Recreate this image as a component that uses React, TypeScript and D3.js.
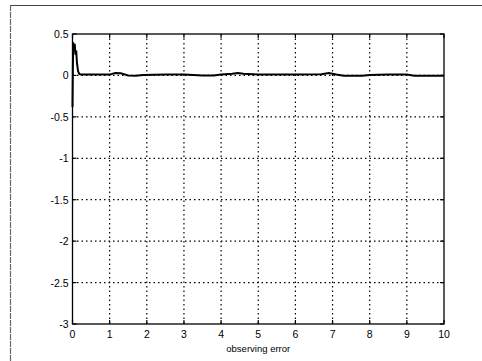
import React, { useEffect, useRef } from "react";
import * as d3 from "d3";

// observing error signal
const times = [0, 0.01, 0.02, 0.04, 0.06, 0.08, 0.1, 0.12, 0.15, 0.18, 0.22, 0.5, 1.0, 1.15, 1.3, 1.5, 1.7, 1.9, 2.5, 3.0, 3.5, 3.8, 4.0, 4.3, 4.45, 4.6, 5.0, 6.0, 6.7, 6.9, 7.1, 7.3, 7.8, 8.0, 8.5, 9.0, 9.2, 9.5, 10];
const values = [-0.38, 0.1, 0.4, 0.3, 0.38, 0.25, 0.3, 0.15, 0.05, 0.02, 0.01, 0.01, 0.01, 0.03, 0.025, 0.0, -0.005, 0.005, 0.01, 0.01, 0.0, 0.0, 0.01, 0.02, 0.03, 0.02, 0.01, 0.01, 0.015, 0.03, 0.01, -0.005, -0.005, 0.005, 0.01, 0.01, -0.005, -0.005, -0.005];
const xTicks = [0, 1, 2, 3, 4, 5, 6, 7, 8, 9, 10];
const yTicks = [0.5, 0, -0.5, -1, -1.5, -2, -2.5, -3];
const xLabel = "observing error";

export default function App() {
  const ref = useRef<SVGSVGElement>(null);

  useEffect(() => {
    const W = 482, H = 361;
    const left = 72.5, right = 444, top = 34, bottom = 324;
    const svg = d3.select(ref.current);
    svg.selectAll("*").remove();

    const x = d3.scaleLinear().domain([0, 10]).range([left, right]);
    const y = d3.scaleLinear().domain([-3, 0.5]).range([bottom, top]);

    svg.append("rect").attr("width", W).attr("height", H).attr("fill", "#fff");

    // scanned frame around the figure
    svg.append("line").attr("x1", 10).attr("x2", W).attr("y1", 5.5).attr("y2", 5.5)
      .attr("stroke", "#444").attr("stroke-width", 1.2);
    svg.append("line").attr("x1", 10.5).attr("x2", 10.5).attr("y1", 5).attr("y2", H)
      .attr("stroke", "#666").attr("stroke-width", 1.2).attr("stroke-dasharray", "6,1");

    // grid
    const grid = svg.append("g").attr("stroke", "#000").attr("stroke-width", 1.2)
      .attr("stroke-dasharray", "1.5,3");
    xTicks.slice(1, -1).forEach(t => {
      grid.append("line").attr("x1", x(t)).attr("x2", x(t)).attr("y1", top).attr("y2", bottom);
    });
    yTicks.slice(1, -1).forEach(t => {
      grid.append("line").attr("x1", left).attr("x2", right).attr("y1", y(t)).attr("y2", y(t));
    });

    // box
    svg.append("rect").attr("x", left).attr("y", top).attr("width", right - left).attr("height", bottom - top)
      .attr("fill", "none").attr("stroke", "#000").attr("stroke-width", 1.3);

    // inward ticks
    const ticks = svg.append("g").attr("stroke", "#000").attr("stroke-width", 1.2);
    xTicks.forEach(t => {
      ticks.append("line").attr("x1", x(t)).attr("x2", x(t)).attr("y1", bottom).attr("y2", bottom - 4);
      ticks.append("line").attr("x1", x(t)).attr("x2", x(t)).attr("y1", top).attr("y2", top + 4);
    });
    yTicks.forEach(t => {
      ticks.append("line").attr("x1", left).attr("x2", left + 4).attr("y1", y(t)).attr("y2", y(t));
      ticks.append("line").attr("x1", right).attr("x2", right - 4).attr("y1", y(t)).attr("y2", y(t));
    });

    const font = "'Liberation Sans', Arial, sans-serif";
    svg.append("g").selectAll("text").data(xTicks).enter().append("text")
      .attr("x", d => x(d)).attr("y", bottom + 14)
      .attr("text-anchor", "middle").attr("font-family", font).attr("font-size", 10.5)
      .text(d => String(d));
    svg.append("g").selectAll("text").data(yTicks).enter().append("text")
      .attr("x", left - 4).attr("y", d => y(d) + 4)
      .attr("text-anchor", "end").attr("font-family", font).attr("font-size", 10.5)
      .text(d => String(d));

    svg.append("text").attr("x", (left + right) / 2).attr("y", bottom + 28)
      .attr("text-anchor", "middle").attr("font-family", font).attr("font-size", 9.5)
      .text(xLabel);

    const line = d3.line<number>().x((d, i) => x(times[i])).y(d => y(d));
    svg.append("path").attr("d", line(values) || "")
      .attr("fill", "none").attr("stroke", "#000").attr("stroke-width", 2);
  }, []);

  return <svg ref={ref} width={482} height={361} style={{ position: "absolute", left: 0, top: 0 }} />;
}
